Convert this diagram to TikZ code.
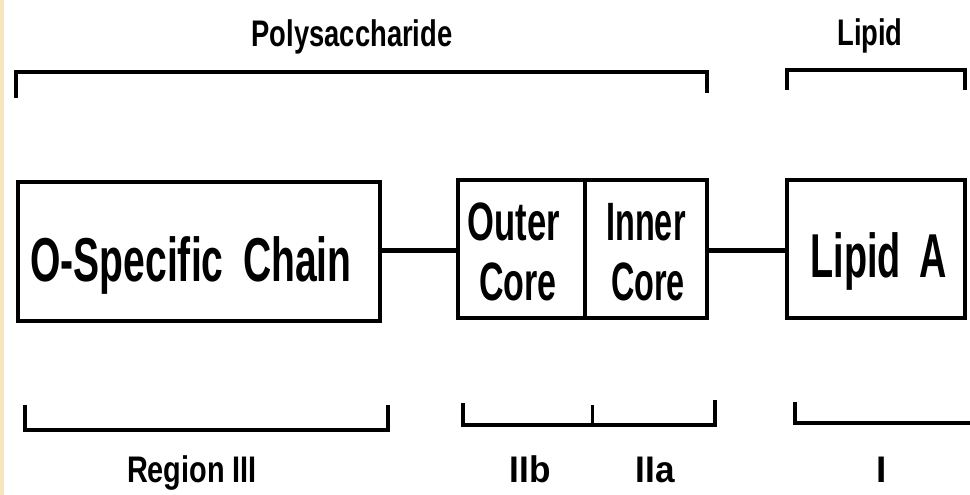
\documentclass[tikz,border=0pt]{standalone}
\usepackage{fontspec}
\setmainfont{Liberation Sans}
\usepackage{graphicx}
\definecolor{beige}{RGB}{245,230,190}
\newcommand{\cnd}[2]{\scalebox{#1}[1]{#2}}
\begin{document}
\begin{tikzpicture}[x=1pt,y=-1pt,
  box/.style={draw, line width=4.5pt, inner sep=0pt, outer sep=0pt, anchor=north west},
  brk/.style={line width=4pt},
  conn/.style={line width=5pt},
  small/.style={anchor=base, inner sep=0pt, font=\fontsize{37}{37}\selectfont\bfseries},
  big/.style={anchor=base, inner sep=0pt, font=\fontsize{62}{62}\selectfont\bfseries},
  mid/.style={anchor=base, inner sep=0pt, font=\fontsize{54}{60}\selectfont\bfseries, align=center}]
\useasboundingbox (0,0) rectangle (970,495);
\fill[white] (0,0) rectangle (970,495);
\fill[beige] (0,0) rectangle (4,495);

% boxes
\node[box, minimum width=362pt, minimum height=139pt] (chain) at (18,182) {};
\node[box, minimum width=127pt, minimum height=138pt] (outer) at (458,180) {};
\node[box, minimum width=122pt, minimum height=138pt] (inner) at (585,180) {};
\node[box, minimum width=178pt, minimum height=138pt] (lipa) at (787,180) {};

% box texts
\node[big] (chaintxt) at (191,281) {\cnd{0.63}{O-Specific\hspace{0.5em}Chain}};
\node[mid] (outertxt) at (514,240) {\cnd{0.64}{Outer}};
\node[mid] (outercore) at (518,300) {\cnd{0.63}{Core}};
\node[mid] (innertxt) at (646,240) {\cnd{0.60}{Inner}};
\node[mid] (innercore) at (648,300) {\cnd{0.60}{Core}};
\node[big] (lipatxt) at (879,277) {\cnd{0.61}{Lipid\hspace{0.5em}A}};

% connectors
\draw[conn] (chain.east |- 0,250) -- (outer.west |- 0,250);
\draw[conn] (inner.east |- 0,250) -- (lipa.west |- 0,250);

% top brackets
\draw[brk] (16,98) -- (16,72) -- (707,72) -- (707,93);
\draw[brk] (787,90) -- (787,70) -- (965,70) -- (965,90);
\node[small] (poly) at (352,47) {\cnd{0.74}{Polysaccharide}};
\node[small] (lipid) at (870,46) {\cnd{0.74}{Lipid}};

% bottom brackets
\draw[brk] (25,405) -- (25,430) -- (388,430) -- (388,405);
\draw[brk] (463,403) -- (463,425) -- (715,425) -- (715,400);
\draw[line width=3pt] (592,405) -- (592,425);
\draw[brk] (795,402) -- (795,423) -- (970,423);
\node[small] (reg3) at (192,482) {\cnd{0.78}{Region III}};
\node[small] (r2b) at (530,482) {\cnd{0.95}{IIb}};
\node[small] (r2a) at (655,482) {\cnd{0.95}{IIa}};
\node[small] (r1) at (882,482) {I};
\end{tikzpicture}
\end{document}
